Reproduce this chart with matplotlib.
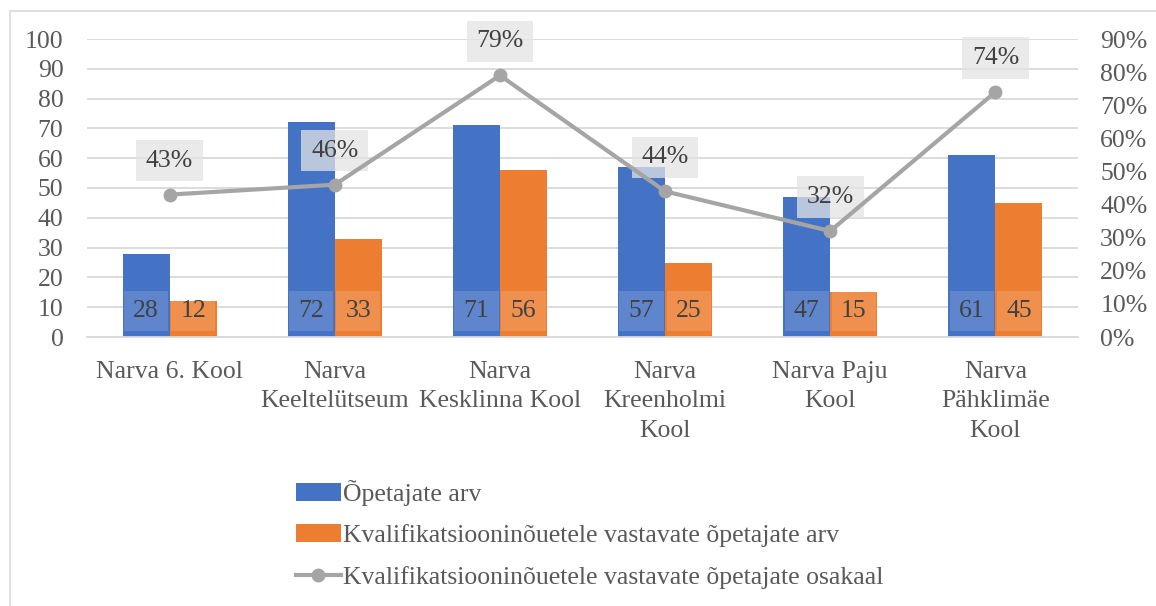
import matplotlib.pyplot as plt
from matplotlib.patches import Rectangle
from matplotlib.ticker import PercentFormatter
import numpy as np

plt.rcParams['font.family'] = ['Liberation Serif', 'DejaVu Serif']

schools = ["Narva 6. Kool", "Narva\nKeeltelütseum", "Narva\nKesklinna Kool",
           "Narva\nKreenholmi\nKool", "Narva Paju\nKool", "Narva\nPähklimäe\nKool"]
teachers = [28, 72, 71, 57, 47, 61]
qualified = [12, 33, 56, 25, 15, 45]
share = [0.43, 0.46, 0.79, 0.44, 0.32, 0.74]

labels = ["Õpetajate arv",
          "Kvalifikatsiooninõuetele vastavate õpetajate arv",
          "Kvalifikatsiooninõuetele vastavate õpetajate osakaal"]

BLUE = "#4472C4"
ORANGE = "#ED7D31"
GREY = "#A5A5A5"
TXT = "#595959"
FS = 18.5

fig = plt.figure(figsize=(11.56, 6.06), dpi=100)
fig.patches.append(Rectangle((10 / 1156, -0.1), 1.2, 1 - 11 / 606 + 0.1,
                             transform=fig.transFigure, fill=False,
                             edgecolor="#D9D9D9", linewidth=1.2))

ax = fig.add_axes([87 / 1156, 1 - 337 / 606, (1078 - 87) / 1156, (337 - 39) / 606])
ax2 = ax.twinx()

x = np.arange(len(schools))
w = 0.285
b1 = ax.bar(x - w / 2, teachers, w, color=BLUE, label=labels[0], zorder=2)
b2 = ax.bar(x + w / 2, qualified, w, color=ORANGE, label=labels[1], zorder=2)

for xs, vals in ((x - w / 2, teachers), (x + w / 2, qualified)):
    for xi, v in zip(xs, vals):
        ax.text(xi, 8.7, str(v), ha="center", va="center", fontsize=FS, color="#404040",
                zorder=3,
                bbox=dict(boxstyle="square,pad=0.36", facecolor="white", alpha=0.15,
                          edgecolor="none"))

ln, = ax2.plot(x, share, color=GREY, linewidth=3, marker="o", markersize=9,
               label=labels[2], zorder=4)
for xi, v in zip(x, share):
    ax2.annotate(f"{v:.0%}", (xi, v), xytext=(0, 34), textcoords="offset pixels",
                 ha="center", va="center", fontsize=FS, color="#404040",
                 bbox=dict(boxstyle="square,pad=0.38", facecolor="#E3E3E3", alpha=0.75,
                           edgecolor="none"))

ax.set_xlim(-0.5, len(schools) - 0.5)
ax.set_ylim(0, 100)
ax.set_yticks(range(0, 101, 10))
ax2.set_ylim(0, 0.9)
ax2.set_yticks(np.arange(0, 0.91, 0.1))
ax2.yaxis.set_major_formatter(PercentFormatter(1.0, decimals=0))

ax.set_xticks(x)
ax.set_xticklabels(schools, linespacing=1.45)
ax.grid(axis="y", color="#D9D9D9", linewidth=1.3, zorder=0)
ax.set_axisbelow(True)

for a in (ax, ax2):
    for s in a.spines.values():
        s.set_visible(False)
    a.tick_params(length=0, labelsize=FS, colors=TXT)
ax.tick_params(axis="y", pad=17)
ax.tick_params(axis="x", pad=17)
ax2.tick_params(axis="y", pad=16)
ax.spines["bottom"].set_visible(True)
ax.spines["bottom"].set_color("#D9D9D9")
ax.spines["bottom"].set_linewidth(1.3)

fig.legend([b1, b2, ln], labels, loc="upper left", bbox_to_anchor=(283 / 1156, 1 - 467 / 606),
           frameon=False, fontsize=FS, labelcolor=TXT, handlelength=1.75,
           handletextpad=0.1, labelspacing=0.72, borderpad=0)

fig.savefig("out.png", dpi=100)
